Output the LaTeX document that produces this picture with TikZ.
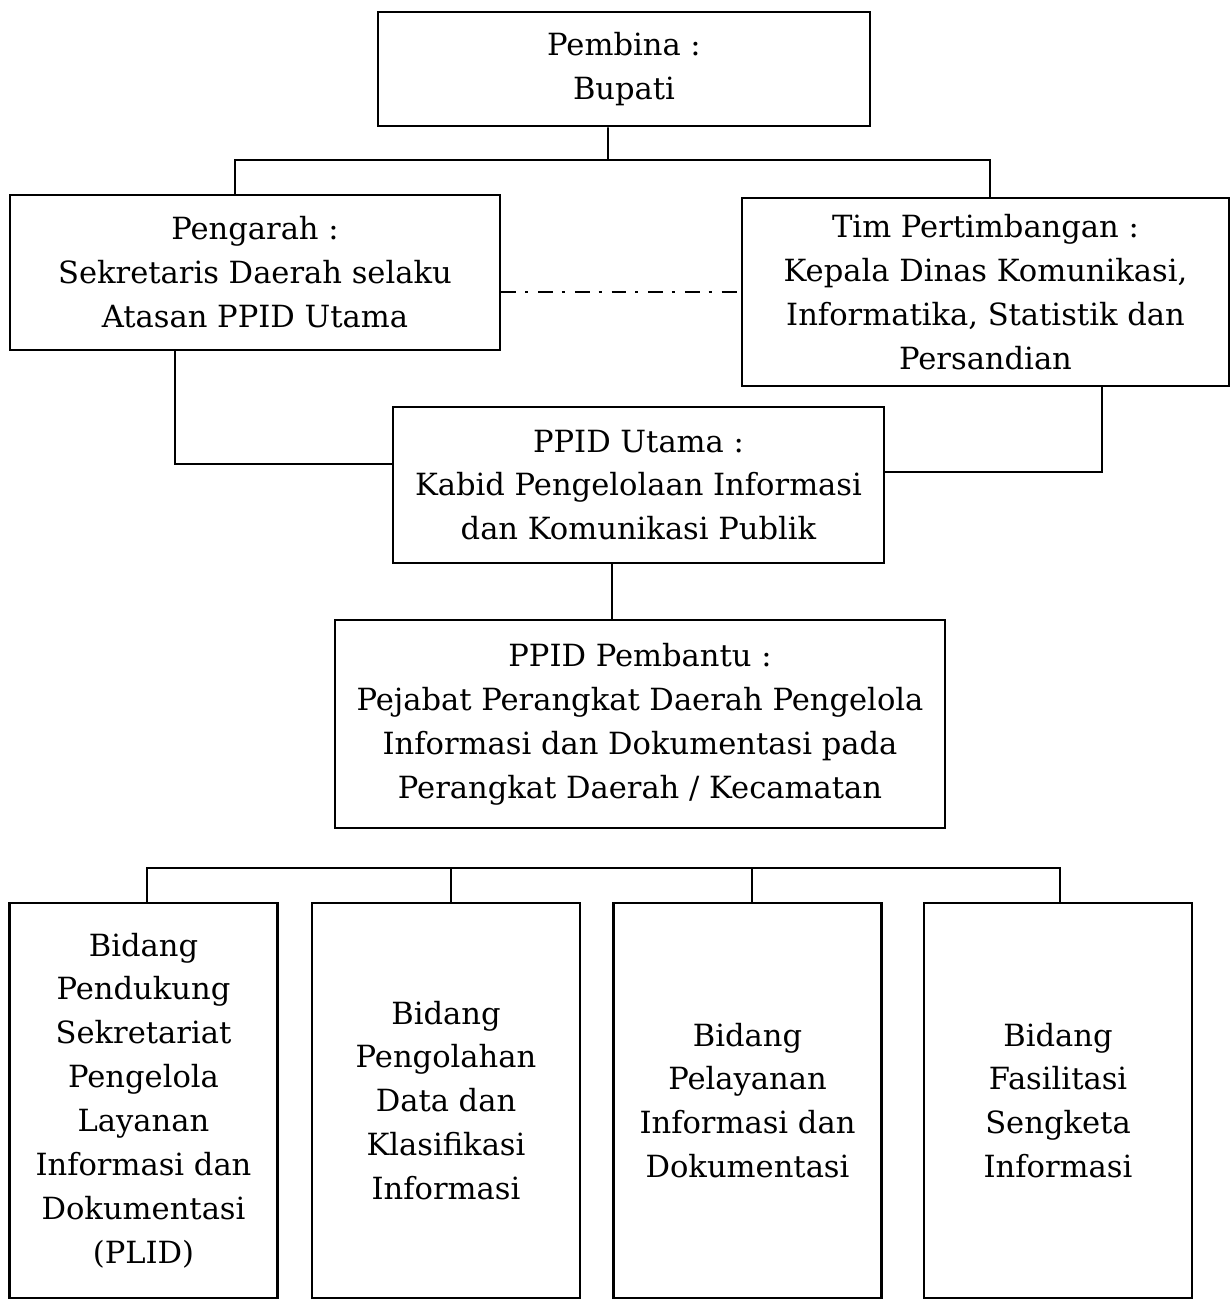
\documentclass[tikz,border=0pt]{standalone}
\usepackage{fontspec}
\setmainfont{DejaVu Serif}

\begin{document}
\begin{tikzpicture}[
  x=0.02cm, y=-0.02cm,
  font=\fontsize{17.4}{25}\selectfont,
  box/.style={draw, line width=1.6pt, align=center, inner sep=0pt},
  unit/.style={box, minimum width=5.36cm, minimum height=7.9cm},
  link/.style={line width=1.1pt},
]
  \useasboundingbox (0,0) rectangle (1231,1301);

  \node[box, minimum width=9.84cm, minimum height=2.28cm] (pembina) at (624,69) {Pembina :\\Bupati};
  \node[box, minimum width=9.8cm, minimum height=3.1cm] (pengarah) at (255,272.5) {Pengarah :\\Sekretaris Daerah selaku\\Atasan PPID Utama};
  \node[box, minimum width=9.74cm, minimum height=3.76cm] (tim) at (985.5,292) {Tim Pertimbangan :\\Kepala Dinas Komunikasi,\\Informatika, Statistik dan\\Persandian};
  \node[box, minimum width=9.82cm, minimum height=3.12cm] (utama) at (638.5,485) {PPID Utama :\\Kabid Pengelolaan Informasi\\dan Komunikasi Publik};
  \node[box, minimum width=12.2cm, minimum height=4.16cm] (pembantu) at (640,724) {PPID Pembantu :\\Pejabat Perangkat Daerah Pengelola\\Informasi dan Dokumentasi pada\\Perangkat Daerah / Kecamatan};

  \node[unit] (plid) at (143.5,1100.5) {Bidang\\Pendukung\\Sekretariat\\Pengelola\\Layanan\\Informasi dan\\Dokumentasi\\(PLID)};
  \node[unit] (olah) at (446,1100.5) {Bidang\\Pengolahan\\Data dan\\Klasifikasi\\Informasi};
  \node[unit] (layan) at (747.5,1100.5) {Bidang\\Pelayanan\\Informasi dan\\Dokumentasi};
  \node[unit] (sengketa) at (1058,1100.5) {Bidang\\Fasilitasi\\Sengketa\\Informasi};

  \coordinate (topbus) at (608,160);
  \coordinate (bus) at (0,868);

  % top level
  \draw[link] ([xshift=-0.32cm]pembina.south) -- (topbus);
  \draw[link] ([xshift=-0.4cm]pengarah.north) |- (topbus) -| ([xshift=0.09cm]tim.north);
  \draw[line width=1.3pt, dash pattern=on 8.5pt off 5pt on 1.7pt off 5.7pt]
    (pengarah.east |- tim.west) -- (tim.west);

  % to PPID Utama
  \draw[link] ([xshift=-1.6cm]pengarah.south) |- ([yshift=0.42cm]utama.west);
  \draw[link] ([xshift=2.33cm]tim.south) |- ([yshift=0.26cm]utama.east);
  \draw[link] ([xshift=-0.53cm]utama.south) -- ([xshift=-0.53cm]utama.south |- pembantu.north);

  % bidang
  \draw[link, line width=1.5pt] ([xshift=0.07cm]plid.north) |- ([xshift=0.04cm]bus -| sengketa.north) -- ([xshift=0.04cm]sengketa.north);
  \draw[link] ([xshift=0.1cm]olah.north) -- ([xshift=0.1cm]olah.north |- bus);
  \draw[link] ([xshift=0.09cm]layan.north) -- ([xshift=0.09cm]layan.north |- bus);
\end{tikzpicture}
\end{document}
